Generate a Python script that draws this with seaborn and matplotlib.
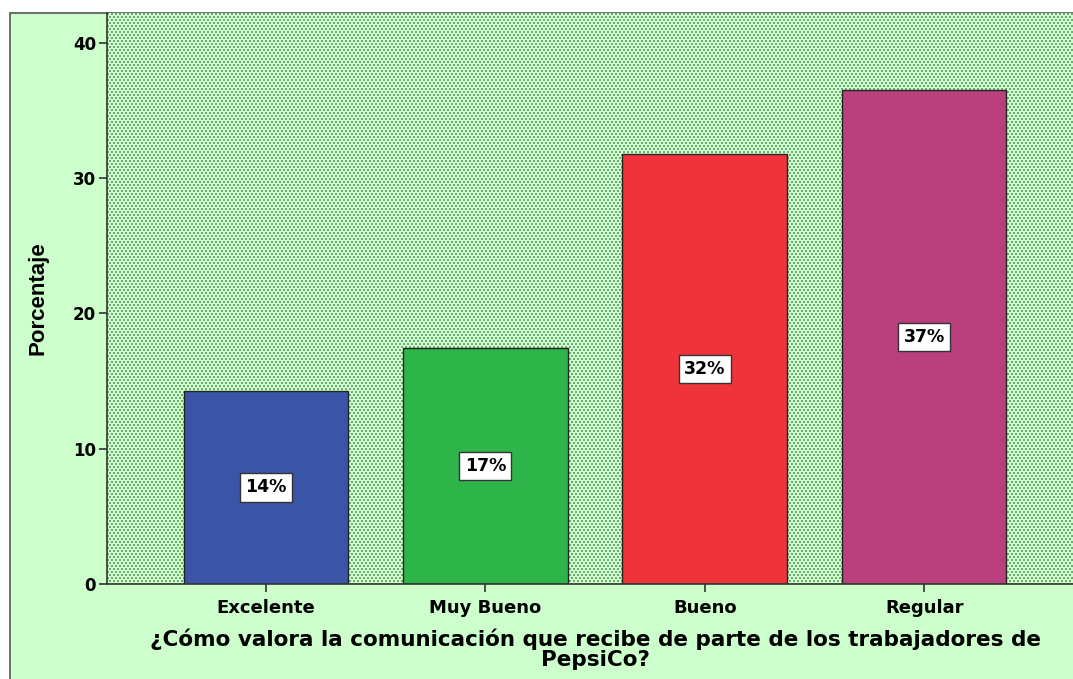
import matplotlib
matplotlib.use("Agg")
import matplotlib.pyplot as plt
from matplotlib.patches import Rectangle
from matplotlib.colors import ListedColormap
import numpy as np
import seaborn as sns
import pandas as pd

categories = ["Excelente", "Muy Bueno", "Bueno", "Regular"]
percentages = [14.29, 17.46, 31.75, 36.51]
bar_colors = ["#3A55A8", "#2EB54A", "#EF333A", "#B9407C"]
y_ticks = [0, 10, 20, 30, 40]
x_title = "¿Cómo valora la comunicación que recibe de parte de los trabajadores de\nPepsiCo?"
y_title = "Porcentaje"

sns.set_theme(style="ticks")
plt.rcParams["font.family"] = ["DejaVu Sans"]

W, H = 1073, 679
fig = plt.figure(figsize=(W / 100, H / 100), dpi=100)
fig.patch.set_facecolor("white")

# light green chart background with its frame
bg = Rectangle((10 / W, -0.05), 1.1, (H - 13) / H + 0.05, transform=fig.transFigure,
               facecolor="#CCFFCC", edgecolor="#555555", linewidth=1.2, zorder=-10)
fig.patches.append(bg)

ax_left, ax_right, ax_top, ax_bottom = 107, 1083, 13, 584
ax = fig.add_axes([ax_left / W, 1 - ax_bottom / H, (ax_right - ax_left) / W,
                   (ax_bottom - ax_top) / H])
ax.set_facecolor("#CCFFCC")

# staggered dot texture filling the plotting area
ph, pw = ax_bottom - ax_top, ax_right - ax_left
rr, cc = np.mgrid[0:ph, 0:pw]
dots = (((rr % 6) < 2) & ((cc % 4) < 2)) | (((rr % 6) >= 3) & ((rr % 6) < 5) & ((cc % 4) >= 2))
ax.imshow(dots.astype(float), cmap=ListedColormap(["#CCFFCC", "#74A574"]),
          extent=(0, 1, 0, 1), transform=ax.transAxes, interpolation="nearest",
          aspect="auto", zorder=0, vmin=0, vmax=1)

df = pd.DataFrame({"cat": categories, "pct": percentages})
sns.barplot(data=df, x="cat", y="pct", hue="cat", palette=bar_colors, order=categories,
            hue_order=categories, legend=False, width=0.75, edgecolor="#222222",
            linewidth=1.0, saturation=1, ax=ax, zorder=2)

for i, v in enumerate(percentages):
    ax.text(i, v / 2, f"{v:.0f}%", ha="center", va="center", fontsize=12.5,
            fontweight="bold", color="black", zorder=5,
            bbox=dict(boxstyle="square,pad=0.3", facecolor="white",
                      edgecolor="#333333", linewidth=1.0))

ax.set_xlim(-0.724, 3.724)
ax.set_ylim(0, 42.2)
ax.set_yticks(y_ticks)
ax.set_yticklabels([str(t) for t in y_ticks], fontsize=12, fontweight="bold")
ax.set_xticks(range(len(categories)))
ax.set_xticklabels(categories, fontsize=13, fontweight="bold")
ax.tick_params(axis="both", length=6, width=1.2, color="#333333", pad=2, labelcolor="black")
ax.tick_params(axis="x", pad=5)

for s in ["top", "right"]:
    ax.spines[s].set_visible(False)
for s in ["left", "bottom"]:
    ax.spines[s].set_color("#333333")
    ax.spines[s].set_linewidth(1.2)

ax.set_xlabel(x_title, fontsize=15.5, fontweight="bold", labelpad=8, linespacing=1.0,
              color="black")
ax.set_ylabel(y_title, fontsize=16, fontweight="bold", color="black",
              family=["Liberation Sans Narrow", "Liberation Sans"])
ax.yaxis.set_label_coords(-0.060, 0.5)

fig.savefig("out.png", dpi=100)
